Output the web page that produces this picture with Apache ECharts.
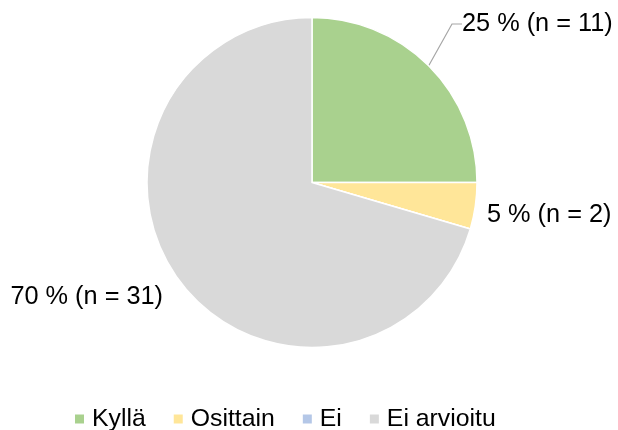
<!DOCTYPE html>
<html>
<head>
<meta charset="utf-8">
<script src="https://cdn.jsdelivr.net/npm/echarts@6/dist/echarts.min.js"></script>
<style>html,body{margin:0;padding:0;background:#fff}#c{width:618px;height:430px}</style>
</head>
<body>
<div id="c"></div>
<script>
const categories = ['Kyllä', 'Osittain', 'Ei', 'Ei arvioitu'];
const counts = [11, 2, 0, 31];
const colors = ['#A9D18E', '#FFE699', '#B4C7E7', '#D9D9D9'];

const total = counts.reduce((a, b) => a + b, 0);
const labelPos = [
  { x: 462, y: 34, align: 'left', style: 'lift' },
  { x: 487, y: 215, align: 'left', style: 'plain' },
  null,
  { x: 163, y: 297, align: 'right', style: 'plain' }
];
const FONT = 'Liberation Sans, Arial, sans-serif';

const chart = echarts.init(document.getElementById('c'), null, { renderer: 'canvas' });
chart.setOption({
  animation: false,
  color: colors,
  legend: {
    data: categories,
    left: 73,
    top: 406,
    padding: 0,
    itemWidth: 11,
    itemHeight: 11,
    itemGap: 26,
    icon: 'rect',
    textStyle: { fontFamily: FONT, fontSize: 24.8, color: '#000', lineHeight: 26, padding: [0, 0, 0, 2] }
  },
  series: [{
    type: 'pie',
    center: [312, 182.5],
    radius: 165,
    startAngle: 90,
    clockwise: true,
    avoidLabelOverlap: false,
    itemStyle: { borderColor: '#fff', borderWidth: 1.5 },
    label: {
      show: true,
      position: 'outside',
      fontFamily: FONT,
      fontSize: 25.3,
      color: '#000',
      formatter: p => {
        if (p.value === 0) return '';
        const t = Math.round(p.value / total * 100) + ' % (n = ' + p.value + ')';
        const lp = labelPos[p.dataIndex];
        return '{' + lp.style + '|' + t + '}';
      },
      rich: {
        lift: { fontFamily: FONT, fontSize: 25.3, color: '#000', padding: [0, 0, 20, 0] },
        plain: { fontFamily: FONT, fontSize: 25.3, color: '#000' }
      }
    },
    labelLine: { show: false, lineStyle: { color: '#A6A6A6', width: 1.2 } },
    labelLayout: function (params) {
      const lp = labelPos[params.dataIndex];
      if (!lp) return {};
      return { x: lp.x, y: lp.y, align: lp.align, verticalAlign: 'middle' };
    },
    data: categories.map((name, i) => ({
      name: name,
      value: counts[i],
      labelLine: { show: i === 0, length: 30, length2: 10 }
    }))
  }]
});
</script>
</body>
</html>
